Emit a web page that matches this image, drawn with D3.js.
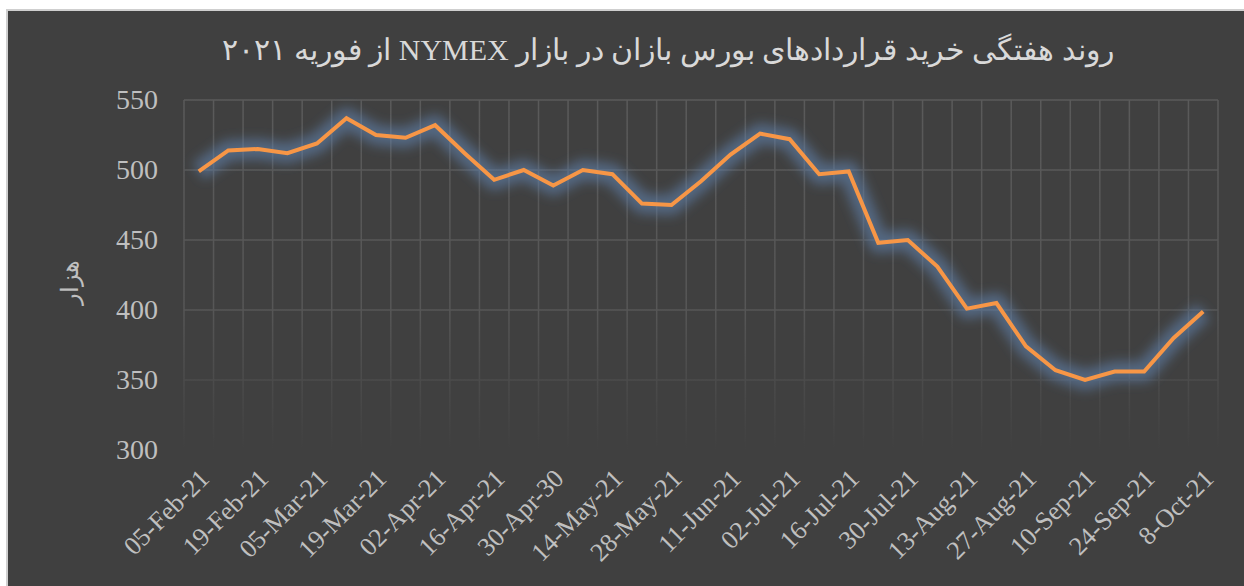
<!DOCTYPE html>
<html>
<head>
<meta charset="utf-8">
<script src="https://cdn.jsdelivr.net/npm/d3@7"></script>
<style>
  body { margin: 0; background: #fff; }
  text { font-family: "Liberation Serif", "Times New Roman", serif; }
</style>
</head>
<body>
<script>
// weekly categories (35 weeks), only every other one is labelled
const categories = [
  "05-Feb-21", "12-Feb-21", "19-Feb-21", "26-Feb-21", "05-Mar-21", "12-Mar-21",
  "19-Mar-21", "26-Mar-21", "02-Apr-21", "09-Apr-21", "16-Apr-21", "23-Apr-21",
  "30-Apr-30", "07-May-21", "14-May-21", "21-May-21", "28-May-21", "04-Jun-21",
  "11-Jun-21", "25-Jun-21", "02-Jul-21", "09-Jul-21", "16-Jul-21", "23-Jul-21",
  "30-Jul-21", "06-Aug-21", "13-Aug-21", "20-Aug-21", "27-Aug-21", "03-Sep-21",
  "10-Sep-21", "17-Sep-21", "24-Sep-21", "01-Oct-21", "8-Oct-21"
];
const values = [
  499, 514, 515, 512, 519, 537, 525, 523, 532, 512, 493, 500,
  489, 500, 497, 476, 475, 492, 511, 526, 522, 497, 499, 448,
  450, 431, 401, 405, 374, 357, 350, 356, 356, 380, 399
];
const yTicks = [300, 350, 400, 450, 500, 550];
const title = "روند هفتگی خرید قراردادهای بورس بازان در بازار  NYMEX از فوریه ۲۰۲۱";
const yTitle = "هزار";

const width = 1244;
const height = 586;
const margin = { left: 184, right: 26, top: 100, bottom: 136 };

const svg = d3.select("body")
  .append("svg")
  .attr("width", width)
  .attr("height", height);

const defs = svg.append("defs");

// gridlines fade out towards the bottom
const fade = defs.append("linearGradient")
  .attr("id", "fade")
  .attr("gradientUnits", "userSpaceOnUse")
  .attr("x1", 0).attr("x2", 0)
  .attr("y1", margin.top).attr("y2", height - margin.bottom);
fade.append("stop").attr("offset", 0).attr("stop-color", "#5a5a5a");
fade.append("stop").attr("offset", 0.6).attr("stop-color", "#565656");
fade.append("stop").attr("offset", 0.82).attr("stop-color", "#4a4a4a");
fade.append("stop").attr("offset", 1).attr("stop-color", "#404040");

const glow = defs.append("filter")
  .attr("id", "glow")
  .attr("x", "-10%").attr("y", "-20%")
  .attr("width", "120%").attr("height", "140%");
glow.append("feGaussianBlur").attr("stdDeviation", 6);

// chart area
svg.append("rect")
  .attr("x", 7)
  .attr("y", 10)
  .attr("width", width)
  .attr("height", height)
  .attr("fill", "#404040")
  .attr("stroke", "#cfcfcf")
  .attr("stroke-width", 2);

const xScale = d3.scaleBand()
  .domain(categories)
  .range([margin.left, width - margin.right]);

const yScale = d3.scaleLinear()
  .domain([300, 550])
  .range([height - margin.bottom, margin.top]);

// horizontal gridlines
svg.append("g")
  .selectAll("line")
  .data(yTicks)
  .enter()
  .append("line")
  .attr("x1", margin.left)
  .attr("x2", width - margin.right)
  .attr("y1", (d) => yScale(d))
  .attr("y2", (d) => yScale(d))
  .attr("stroke", "url(#fade)")
  .attr("stroke-width", 1.5);

// vertical gridlines on the band edges
const edges = categories.map((c) => xScale(c)).concat([width - margin.right]);
svg.append("g")
  .selectAll("line")
  .data(edges)
  .enter()
  .append("line")
  .attr("x1", (d) => d)
  .attr("x2", (d) => d)
  .attr("y1", margin.top)
  .attr("y2", height - margin.bottom)
  .attr("stroke", "url(#fade)")
  .attr("stroke-width", 1.5);

// y axis
const yAxis = svg.append("g")
  .attr("transform", `translate(${margin.left},0)`)
  .call(d3.axisLeft(yScale).tickValues(yTicks).tickSize(0).tickPadding(26));
yAxis.select(".domain").remove();
yAxis.selectAll("text")
  .attr("font-size", 28)
  .attr("font-family", "Liberation Serif")
  .attr("fill", "#bfbfbf");

svg.append("text")
  .attr("transform", "translate(78,282) rotate(-90)")
  .attr("text-anchor", "middle")
  .attr("font-family", "DejaVu Sans")
  .attr("font-size", 24)
  .attr("fill", "#bfbfbf")
  .text(yTitle);

// x axis, every second week labelled
const xAxis = svg.append("g")
  .attr("transform", `translate(0,${height - margin.bottom})`)
  .call(d3.axisBottom(xScale)
    .tickSize(0)
    .tickFormat((d, i) => (i % 2 === 0 ? d : "")));
xAxis.select(".domain").remove();
xAxis.selectAll("text")
  .attr("font-size", 26)
  .attr("font-family", "Liberation Serif")
  .attr("fill", "#bfbfbf")
  .attr("text-anchor", "end")
  .attr("x", 0)
  .attr("y", 0)
  .attr("dy", 0)
  .attr("transform", "translate(12,30) rotate(-45)");

// line with soft blue glow
const line = d3.line()
  .x((d, i) => xScale(categories[i]) + xScale.bandwidth() / 2)
  .y((d) => yScale(d));

svg.append("path")
  .datum(values)
  .attr("d", line)
  .attr("fill", "none")
  .attr("stroke", "#5f82ad")
  .attr("stroke-opacity", 0.6)
  .attr("stroke-width", 20)
  .attr("stroke-linejoin", "round")
  .attr("filter", "url(#glow)");

svg.append("path")
  .datum(values)
  .attr("d", line)
  .attr("fill", "none")
  .attr("stroke", "#f79646")
  .attr("stroke-width", 4)
  .attr("stroke-linejoin", "miter");

// title
svg.append("text")
  .attr("x", 668)
  .attr("y", 60)
  .attr("text-anchor", "middle")
  .attr("direction", "rtl")
  .attr("font-family", "Liberation Serif, DejaVu Sans")
  .attr("font-size", 30)
  .attr("fill", "#d9d9d9")
  .text(title);
</script>
</body>
</html>
